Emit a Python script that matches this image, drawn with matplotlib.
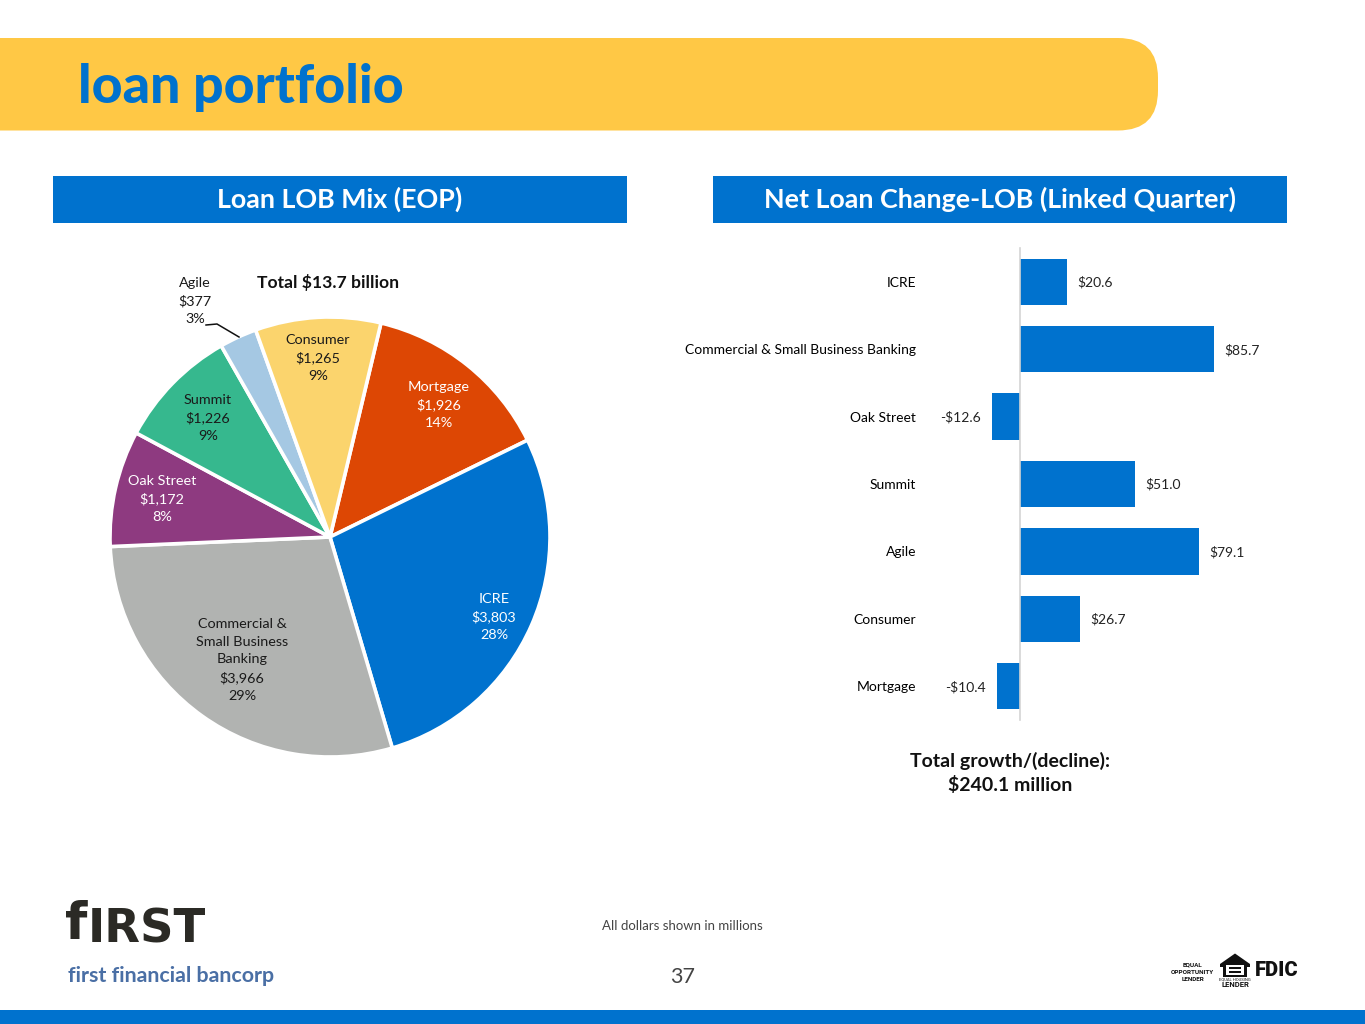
import matplotlib
matplotlib.use("Agg")
import matplotlib.pyplot as plt
from matplotlib.patches import FancyBboxPatch, Rectangle, Polygon

W, H = 1365, 1024
plt.rcParams['font.family'] = ['Lato', 'DejaVu Sans']

# data
pie_labels = ["Mortgage", "ICRE", "Commercial &\nSmall Business\nBanking", "Oak Street", "Summit", "Agile", "Consumer"]
pie_values = [1926, 3803, 3966, 1172, 1226, 377, 1265]
pie_pcts = ["14%", "28%", "29%", "8%", "9%", "3%", "9%"]
pie_colors = ["#DD4704", "#0072CE", "#B1B3B1", "#8E3A80", "#36B88E", "#A5C8E3", "#FBD46D"]
pie_text_colors = ["#FFFFFF", "#FFFFFF", "#1A1A1A", "#FFFFFF", "#1A1A1A", "#1A1A1A", "#1A1A1A"]
pie_label_px = [(439, 405), (494, 617), (242, 660), (162, 499), (208, 418), (195, 301), (318, 358)]

bar_categories = ["ICRE", "Commercial & Small Business Banking", "Oak Street", "Summit", "Agile", "Consumer", "Mortgage"]
bar_values = [20.6, 85.7, -12.6, 51.0, 79.1, 26.7, -10.4]
bar_labels = ["$20.6", "$85.7", "-$12.6", "$51.0", "$79.1", "$26.7", "-$10.4"]

BLUE = "#0072CE"
fig = plt.figure(figsize=(W/100, H/100), dpi=100, facecolor="white")

def axes_px(x0, y0, x1, y1, **kw):
    return fig.add_axes([x0/W, 1-y1/H, (x1-x0)/W, (y1-y0)/H], **kw)

# overlay in pixel coordinates
bg = fig.add_axes([0, 0, 1, 1], zorder=0)
bg.set_xlim(0, W); bg.set_ylim(H, 0); bg.axis("off")

# banner
bg.add_patch(FancyBboxPatch((-60, 38), 1218, 92.5, boxstyle="round,pad=0,rounding_size=40",
                            fc="#FFC845", ec="none"))
bg.text(78, 87, "loan portfolio", color=BLUE, fontsize=38.5, fontweight="black",
        family=['Lato'], va="center", ha="left")

# section headers
for x0, t in [(53, "Loan LOB Mix (EOP)"), (713, "Net Loan Change-LOB (Linked Quarter)")]:
    bg.add_patch(Rectangle((x0, 176), 574, 46.5, fc=BLUE, ec="none"))
    bg.text(x0+286.7, 199, t, color="white", fontsize=19.4, fontweight="bold", ha="center", va="center")

# bottom bar
bg.add_patch(Rectangle((0, 1010), W, 14, fc=BLUE, ec="none"))

# footer
bg.text(682.5, 926, "All dollars shown in millions", color="#444444", fontsize=9.5, ha="center", va="center")
bg.text(682.5, 977, "37", color="#444444", fontsize=15.5, ha="center", va="center")

# logo
bg.text(65, 925, "f", color="#2B2A25", fontsize=37, fontweight="bold", family=['DejaVu Sans'], ha="left", va="center")
bg.text(88, 930, "IRST", color="#2B2A25", fontsize=33.5, fontweight="bold", family=['DejaVu Sans'], ha="left", va="center")
bg.text(68, 976, "first financial bancorp", color="#4A6FA5", fontsize=15.4, fontweight="bold", ha="left", va="center")

# regulatory marks
for y, t in [(964.5, "EQUAL"), (972, "OPPORTUNITY"), (979.5, "LENDER")]:
    bg.text(1192.5, y, t, color="#111111", fontsize=4.6, fontweight="bold", ha="center", va="center",
            family=['Roboto'])
bg.add_patch(Polygon([(1220, 964), (1235, 953.5), (1250, 964), (1250, 967), (1247, 967), (1247, 977),
                      (1223, 977), (1223, 967), (1220, 967)], fc="#111111", ec="none"))
bg.add_patch(Rectangle((1226, 965), 18, 10, fc="white", ec="none"))
bg.add_patch(Rectangle((1229, 967), 12, 2, fc="#111111", ec="none"))
bg.add_patch(Rectangle((1229, 971), 12, 2, fc="#111111", ec="none"))
bg.text(1235, 980, "EQUAL HOUSING", color="#111111", fontsize=3, ha="center", va="center", family=['Roboto'])
bg.text(1235, 984.5, "LENDER", color="#111111", fontsize=5.5, fontweight="bold", ha="center", va="center", family=['Roboto'])
bg.text(1277, 971, "FDIC", color="#111111", fontsize=14.5, fontweight="black", ha="center", va="center", family=['Roboto'])

# pie
cx, cy, r = 330, 537, 220
axp = axes_px(cx-r-3, cy-r-3, cx+r+3, cy+r+3, zorder=1)
axp.pie(pie_values, colors=pie_colors, startangle=76.6, counterclock=False, radius=1,
        wedgeprops=dict(edgecolor="white", linewidth=2.6))
lim = (r+3)/r
axp.set_xlim(-lim, lim); axp.set_ylim(-lim, lim); axp.set_aspect("equal")

# text overlay
top = fig.add_axes([0, 0, 1, 1], zorder=3)
top.set_xlim(0, W); top.set_ylim(H, 0); top.axis("off"); top.patch.set_alpha(0)
for lab, v, p, c, (x, y) in zip(pie_labels, pie_values, pie_pcts, pie_text_colors, pie_label_px):
    top.text(x, y, f"{lab}\n${v:,}\n{p}", color=c, fontsize=10.4, ha="center", va="center",
             linespacing=1.55, multialignment="center")
top.plot([206, 217, 239], [325, 324, 337], color="#111111", lw=1.1)
top.text(328.5, 282.5, "Total $13.7 billion", fontsize=12.6, fontweight="bold", color="#111111", ha="center", va="center")
top.text(1010, 773, "Total growth/(decline):\n$240.1 million", fontsize=14, fontweight="bold", color="#111111",
         ha="center", va="center", linespacing=1.35)

# bars
px_per_unit = 193.5/85.7
x0_px, x1_px = 1020-20*px_per_unit, 1020+100*px_per_unit
axb = axes_px(x0_px, 248, x1_px, 720, zorder=2)
axb.patch.set_alpha(0)
ypos = list(range(len(bar_values)))
axb.barh(ypos, bar_values, height=0.685, color=BLUE, left=0)
axb.set_xlim(-20, 100)
axb.set_ylim(6.5, -0.5)
axb.set_yticks(ypos)
axb.set_yticklabels(bar_categories, fontsize=10.6, color="#222222")
axb.set_xticks([])
axb.tick_params(axis="y", length=0, pad=74.9)
for s in ["top", "right", "bottom"]:
    axb.spines[s].set_visible(False)
axb.spines["left"].set_position(("data", 0))
axb.spines["left"].set_color("#D4D4D4")
axb.spines["left"].set_linewidth(1.2)
for y, v, t in zip(ypos, bar_values, bar_labels):
    if v >= 0:
        axb.annotate(t, (v, y), xytext=(7.5, -0.5), textcoords="offset points", ha="left", va="center", fontsize=10, color="#222222")
    else:
        axb.annotate(t, (v, y), xytext=(-7.5, -0.5), textcoords="offset points", ha="right", va="center", fontsize=10, color="#222222")

fig.savefig("out.png", dpi=100)
